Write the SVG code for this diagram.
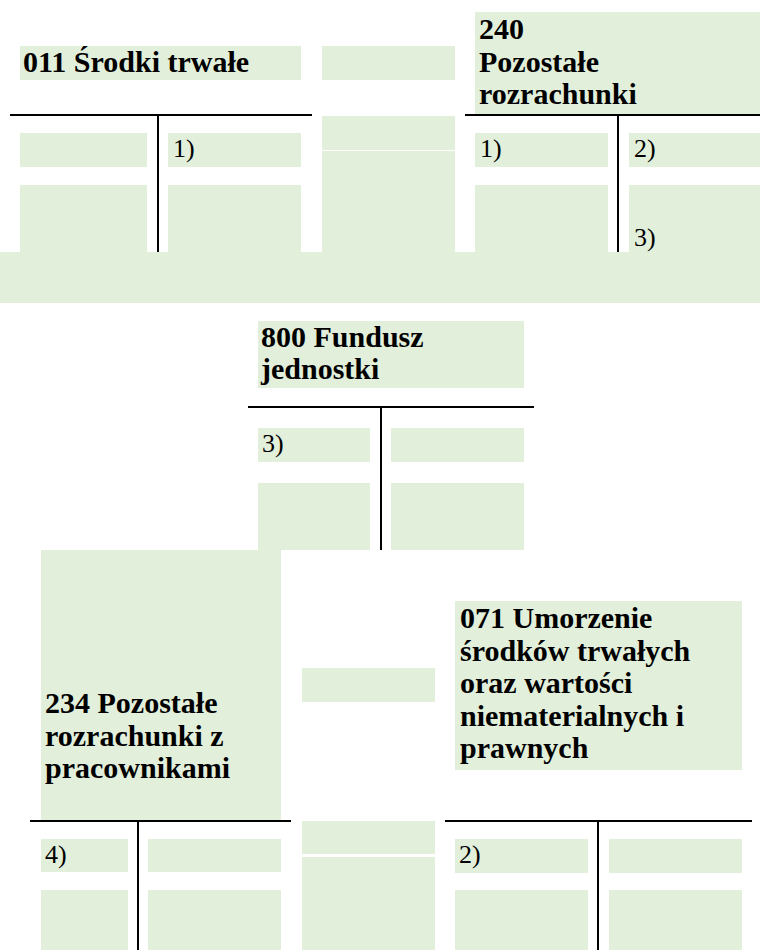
<svg xmlns="http://www.w3.org/2000/svg" width="760" height="950" viewBox="0 0 760 950">
<style>
.c{fill:#E2EFDA}
.l{stroke:#000;stroke-width:2;fill:none}
.t{font-family:"Liberation Serif","Times New Roman",serif;font-weight:bold;font-size:30px;fill:#000}
.n{font-family:"Liberation Serif","Times New Roman",serif;font-size:26px;fill:#000}
</style>
<rect width="760" height="950" fill="#fff"/>
<g id="acc011">
<rect class="c" x="20" y="46" width="281" height="34"/>
<text class="t" x="23" y="72">011 Środki trwałe</text>
<rect class="c" x="20" y="133" width="127" height="34"/>
<rect class="c" x="168" y="133" width="133" height="34"/>
<rect class="c" x="20" y="185" width="127" height="67"/>
<rect class="c" x="168" y="185" width="133" height="67"/>
<text class="n" x="173" y="157">1)</text>
<line class="l" x1="10" y1="115" x2="312" y2="115"/>
<line class="l" x1="158" y1="115" x2="158" y2="252"/>
</g>
<g id="mid-top">
<rect class="c" x="322" y="46" width="133" height="34"/>
<rect class="c" x="322" y="116" width="133" height="34"/>
<rect class="c" x="322" y="151" width="133" height="101"/>
</g>
<g id="acc240">
<rect class="c" x="475" y="12" width="285" height="103"/>
<text class="t" x="479" y="39">240</text>
<text class="t" x="479" y="71.5">Pozostałe</text>
<text class="t" x="479" y="104">rozrachunki</text>
<rect class="c" x="475" y="133" width="133" height="34"/>
<rect class="c" x="629" y="133" width="131" height="34"/>
<rect class="c" x="475" y="185" width="133" height="67"/>
<rect class="c" x="629" y="185" width="131" height="67"/>
<text class="n" x="480" y="157">1)</text>
<text class="n" x="634" y="157">2)</text>
<text class="n" x="634" y="246">3)</text>
<line class="l" x1="465" y1="115" x2="760" y2="115"/>
<line class="l" x1="618" y1="115" x2="618" y2="252"/>
</g>
<g id="band">
<rect class="c" x="0" y="252" width="760" height="51"/>
</g>
<g id="acc800">
<rect class="c" x="258" y="321" width="266" height="67"/>
<text class="t" x="261" y="347">800 Fundusz</text>
<text class="t" x="261" y="379">jednostki</text>
<rect class="c" x="258" y="428" width="112" height="34"/>
<rect class="c" x="391" y="428" width="133" height="34"/>
<rect class="c" x="258" y="483" width="112" height="67"/>
<rect class="c" x="391" y="483" width="133" height="67"/>
<text class="n" x="262" y="452">3)</text>
<line class="l" x1="248" y1="407" x2="534" y2="407"/>
<line class="l" x1="381" y1="407" x2="381" y2="550"/>
</g>
<g id="acc234">
<rect class="c" x="41" y="550" width="240" height="270"/>
<text class="t" x="45" y="713">234 Pozostałe</text>
<text class="t" x="45" y="745.5">rozrachunki z</text>
<text class="t" x="45" y="778">pracownikami</text>
<rect class="c" x="41" y="839" width="87" height="33"/>
<rect class="c" x="148" y="839" width="133" height="33"/>
<rect class="c" x="41" y="890" width="87" height="60"/>
<rect class="c" x="148" y="890" width="133" height="60"/>
<text class="n" x="45" y="863">4)</text>
<line class="l" x1="30" y1="821" x2="291" y2="821"/>
<line class="l" x1="138" y1="821" x2="138" y2="950"/>
</g>
<g id="mid-bottom">
<rect class="c" x="302" y="668" width="133" height="34"/>
<rect class="c" x="302" y="821" width="133" height="33"/>
<rect class="c" x="302" y="857" width="133" height="93"/>
</g>
<g id="acc071">
<rect class="c" x="455" y="601" width="287" height="169"/>
<text class="t" x="460" y="628">071 Umorzenie</text>
<text class="t" x="460" y="660.5">środków trwałych</text>
<text class="t" x="460" y="693">oraz wartości</text>
<text class="t" x="460" y="725.5">niematerialnych i</text>
<text class="t" x="460" y="758">prawnych</text>
<rect class="c" x="455" y="839" width="133" height="34"/>
<rect class="c" x="609" y="839" width="133" height="34"/>
<rect class="c" x="455" y="890" width="133" height="60"/>
<rect class="c" x="609" y="890" width="133" height="60"/>
<text class="n" x="459" y="863">2)</text>
<line class="l" x1="445" y1="821" x2="752" y2="821"/>
<line class="l" x1="598" y1="821" x2="598" y2="950"/>
</g>
<g id="connectors"/>
</svg>
